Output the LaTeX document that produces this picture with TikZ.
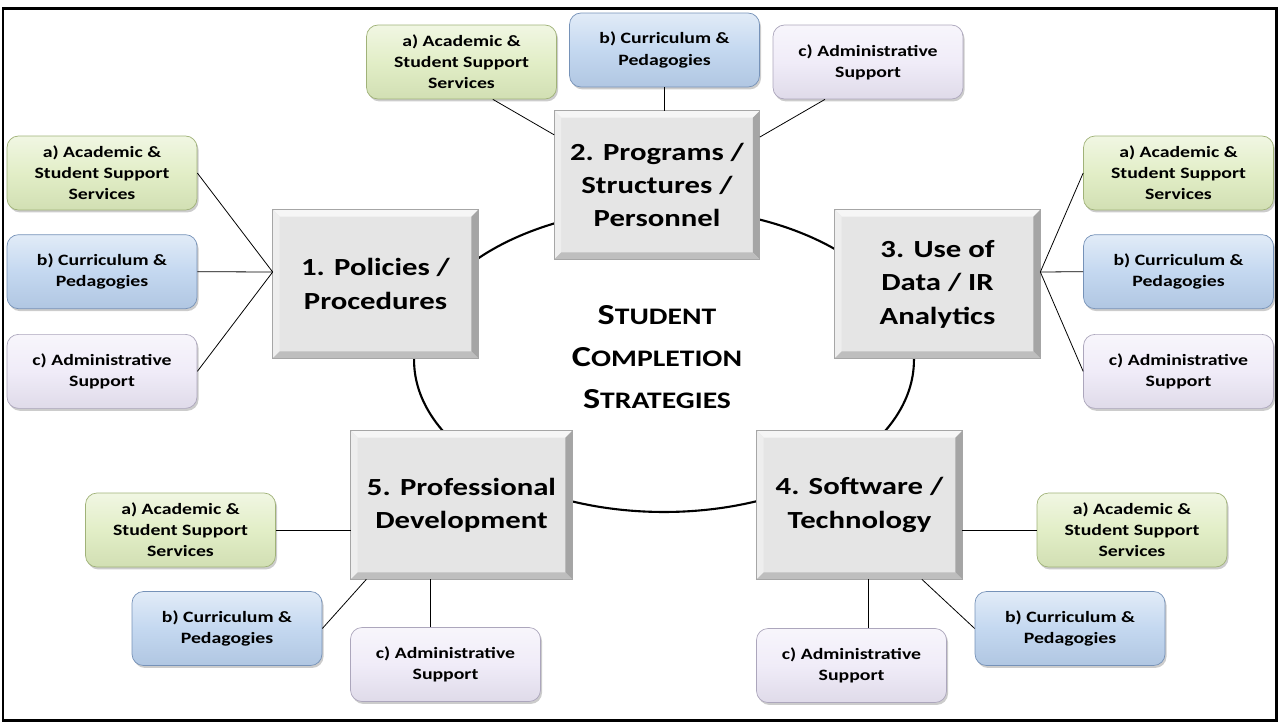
\documentclass[tikz,border=0pt]{standalone}
\usepackage{fontspec}
\setmainfont{Carlito}
\newfontfamily\widefont{Carlito}[FakeStretch=1.25]
\usetikzlibrary{positioning,shadows}

\definecolor{boxgray}{RGB}{229,229,229}
\definecolor{bevellight}{RGB}{246,246,246}
\definecolor{bevelside}{RGB}{238,238,238}
\definecolor{beveldark}{RGB}{165,165,165}
\definecolor{bevelbottom}{RGB}{190,190,190}
\definecolor{acadgreen}{RGB}{226,238,199}
\definecolor{acadedge}{RGB}{160,178,120}
\definecolor{currblue}{RGB}{196,216,240}
\definecolor{curredge}{RGB}{118,146,184}
\definecolor{adminlilac}{RGB}{240,236,248}
\definecolor{adminedge}{RGB}{172,166,188}

% raised edge on the big strategy boxes
\newcommand{\bevel}[1]{%
  \fill[bevellight] (#1.north west) -- (#1.north east) -- ([shift={(-4pt,-4pt)}]#1.north east) -- ([shift={(4pt,-4pt)}]#1.north west) -- cycle;
  \fill[bevelside] (#1.north west) -- ([shift={(4pt,-4pt)}]#1.north west) -- ([shift={(4pt,4pt)}]#1.south west) -- (#1.south west) -- cycle;
  \fill[beveldark] (#1.north east) -- (#1.south east) -- ([shift={(-4pt,4pt)}]#1.south east) -- ([shift={(-4pt,-4pt)}]#1.north east) -- cycle;
  \fill[bevelbottom] (#1.south west) -- ([shift={(4pt,4pt)}]#1.south west) -- ([shift={(-4pt,4pt)}]#1.south east) -- (#1.south east) -- cycle;
  \draw[gray!70] (#1.north west) rectangle (#1.south east);}
\newcommand{\scword}[2]{{\fontsize{16.5}{24}\selectfont #1}{\fontsize{13.5}{24}\selectfont #2}}

\begin{document}
\begin{tikzpicture}[x=0.02cm,y=-0.02cm,
  strategy/.style={rectangle,draw=gray!70,fill=boxgray,minimum width=4.1cm,minimum height=2.96cm,inner sep=0pt,align=center,font=\widefont\bfseries\fontsize{14}{19}\selectfont},
  area/.style={rectangle,rounded corners=6.5pt,minimum width=3.8cm,minimum height=1.48cm,inner sep=0pt,align=center,font=\widefont\bfseries\fontsize{9}{12}\selectfont,drop shadow={shadow xshift=0.9pt,shadow yshift=-1.4pt,opacity=0.4}},
  acad/.style={area,draw=acadedge,top color=acadgreen!50!white,bottom color=acadgreen!75!acadedge,middle color=acadgreen},
  curr/.style={area,draw=curredge,top color=currblue!50!white,bottom color=currblue!75!curredge,middle color=currblue},
  admin/.style={area,draw=adminedge,top color=adminlilac!50!white,bottom color=adminlilac!75!adminedge,middle color=adminlilac},
  link/.style={draw=black,line width=0.45pt},
  ring/.style={draw=black,line width=1.2pt}]
  \useasboundingbox (0,0) rectangle (1281,724);
  \draw[line width=1.7pt] (3,8.5) rectangle (1276.5,720);

  % ring behind the five strategies
  \coordinate (hub) at (664,360);
  \draw[ring] (hub) ellipse [x radius=5cm,y radius=3.04cm];
  \node[font=\widefont\bfseries\fontsize{16.5}{24}\selectfont,align=center] (title) at (657,357)
    {\scword{S}{TUDENT}\\\scword{C}{OMPLETION}\\\scword{S}{TRATEGIES}};

  \node[strategy] (policy) at (375.5,284) {1. Policies /\\Procedures};
  \node[strategy] (programs) at (657,185) {2. Programs /\\Structures /\\Personnel};
  \node[strategy] (data) at (937.5,284) {3. Use of\\Data / IR\\Analytics};
  \node[strategy] (software) at (859.5,505) {4. Software /\\Technology};
  \node[strategy,minimum width=4.42cm] (profdev) at (461.5,505) {5. Professional\\Development};
  \foreach \n in {policy,programs,data,software,profdev} {\bevel{\n}}

  % satellites
  \node[acad] (policyA) at (102,173) {a) Academic \&\\Student Support\\Services};
  \node[curr,below=0.48cm of policyA] (policyB) {b) Curriculum \&\\Pedagogies};
  \node[admin,below=0.5cm of policyB] (policyC) {c) Administrative\\Support};

  \node[acad] (programsA) at (461.5,62) {a) Academic \&\\Student Support\\Services};
  \node[curr] (programsB) at (664.5,50) {b) Curriculum \&\\Pedagogies};
  \node[admin] (programsC) at (868,62) {c) Administrative\\Support};

  \node[acad] (dataA) at (1178.5,173) {a) Academic \&\\Student Support\\Services};
  \node[curr,below=0.48cm of dataA] (dataB) {b) Curriculum \&\\Pedagogies};
  \node[admin,below=0.5cm of dataB] (dataC) {c) Administrative\\Support};

  \node[acad] (softA) at (1132,530) {a) Academic \&\\Student Support\\Services};
  \node[curr] (softB) at (1070,628.5) {b) Curriculum \&\\Pedagogies};
  \node[admin] (softC) at (851.5,665.5) {c) Administrative\\Support};

  \node[acad] (profdevA) at (180.5,530) {a) Academic \&\\Student Support\\Services};
  \node[curr] (profdevB) at (227,628.5) {b) Curriculum \&\\Pedagogies};
  \node[admin] (profdevC) at (445.5,664.5) {c) Administrative\\Support};

  % connectors
  \coordinate (hubL) at ([yshift=0.24cm]policy.west);
  \coordinate (hubR) at ([yshift=0.24cm]data.east);
  \foreach \s in {A,B,C} {\draw[link] (policy\s.east) -- (hubL); \draw[link] (hubR) -- (data\s.west);}
  \draw[link] (programsA.-50) -- (programs.154);
  \draw[link] (programsB.south) -- (programsB.south |- programs.north);
  \draw[link] (programsC.-139) -- (programs.25);
  \draw[link] (software.east |- softA.west) -- (softA.west);
  \draw[link] (software.-50) -- (softB.west);
  \coordinate (softC-top) at ([xshift=0.33cm]softC.north);
  \draw[link] (softC-top) -- (softC-top |- software.south);
  \draw[link] (profdevA.east) -- (profdevA.east -| profdev.west);
  \draw[link] (profdevB.east) -- (profdev.-142);
  \coordinate (profdevC-top) at ([xshift=-0.31cm]profdevC.north);
  \draw[link] (profdevC-top) -- (profdevC-top |- profdev.south);
\end{tikzpicture}
\end{document}
